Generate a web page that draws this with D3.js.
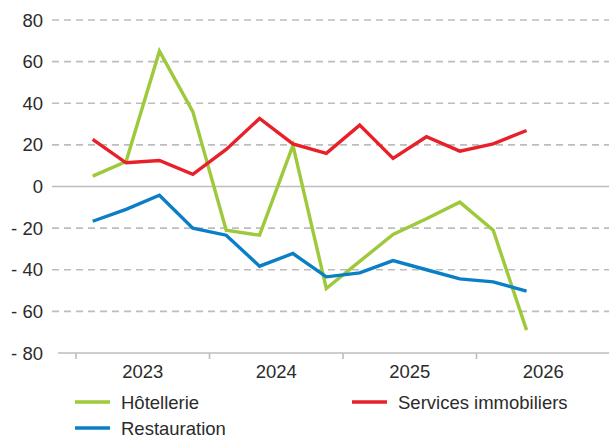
<!DOCTYPE html>
<html><head><meta charset="utf-8">
<script src="https://cdn.jsdelivr.net/npm/d3@7"></script>
<style>body{margin:0;background:#fff}svg{display:block}text{font-family:"Liberation Sans",Arial,sans-serif;fill:#2b2b2b}</style>
</head><body><svg id="c" width="609" height="437"></svg>
<script>
const quarters = ["2023T1","2023T2","2023T3","2023T4","2024T1","2024T2","2024T3","2024T4","2025T1","2025T2","2025T3","2025T4","2026T1","2026T2","2026T3","2026T4"];
const years = ["2023","2024","2025","2026"];
const yTicks = [80,60,40,20,0,-20,-40,-60,-80];
const hotellerie = [5,12,65,36,-21,-23.4,19.8,-49,-36,-23,-15.5,-7.5,-21,-69];
const restauration = [-16.7,-11,-4.2,-20,-23.4,-38.3,-32.2,-43.4,-41.5,-35.6,-40,-44.4,-45.8,-50.3];
const services = [22.6,11.4,12.5,5.8,17.8,32.7,20.5,15.9,29.5,13.5,23.9,17,20.5,26.9];
const seriesNames = ["Hôtellerie","Restauration","Services immobiliers"];
const colors = ["#9dc93b","#0a7fc5","#e8202a"];

const svg = d3.select("#c");
const x = d3.scaleBand().domain(quarters).range([76,610]);
const y = d3.scaleLinear().domain([-80,80]).range([353,20]);
const fs = 18.5;

svg.append("g").selectAll("line").data(yTicks.filter(d=>d!==-80)).join("line")
  .attr("x1",52).attr("x2",609).attr("y1",d=>y(d)).attr("y2",d=>y(d))
  .attr("stroke","#bdbdbd").attr("stroke-width",1.6)
  .attr("stroke-dasharray",d=>d===0?null:"7,5");
svg.append("g").selectAll("text").data(yTicks).join("text")
  .attr("x",43).attr("y",d=>y(d)+6.5).attr("text-anchor","end")
  .attr("font-size",fs).text(d=>d<0?"- "+Math.abs(d):d);
svg.append("line").attr("x1",58).attr("x2",609).attr("y1",353).attr("y2",353)
  .attr("stroke","#bdbdbd").attr("stroke-width",1.6);
svg.append("g").selectAll("line").data(years).join("line")
  .attr("x1",d=>x(d+"T1")).attr("x2",d=>x(d+"T1"))
  .attr("y1",353).attr("y2",359).attr("stroke","#bdbdbd").attr("stroke-width",1.6);
svg.append("g").selectAll("text").data(years).join("text")
  .attr("x",d=>x(d+"T1")+x.step()*2).attr("y",378).attr("text-anchor","middle")
  .attr("font-size",fs).text(d=>d);

const line = d3.line().x((d,i)=>x(quarters[i])+x.bandwidth()/2).y(d=>y(d));
[hotellerie,restauration,services].forEach((s,k)=>{
  svg.append("path").datum(s).attr("d",line).attr("fill","none")
    .attr("stroke",colors[k]).attr("stroke-width",3.4).attr("stroke-linejoin","miter");
});
const leg = [{n:seriesNames[0],c:colors[0],x:75,y:402},{n:seriesNames[2],c:colors[2],x:352,y:402},{n:seriesNames[1],c:colors[1],x:75,y:428}];
leg.forEach(l=>{
  svg.append("line").attr("x1",l.x).attr("x2",l.x+35).attr("y1",l.y).attr("y2",l.y)
    .attr("stroke",l.c).attr("stroke-width",3.4);
  svg.append("text").attr("x",l.x+46).attr("y",l.y+6.5).attr("font-size",fs).text(l.n);
});
</script></body></html>
